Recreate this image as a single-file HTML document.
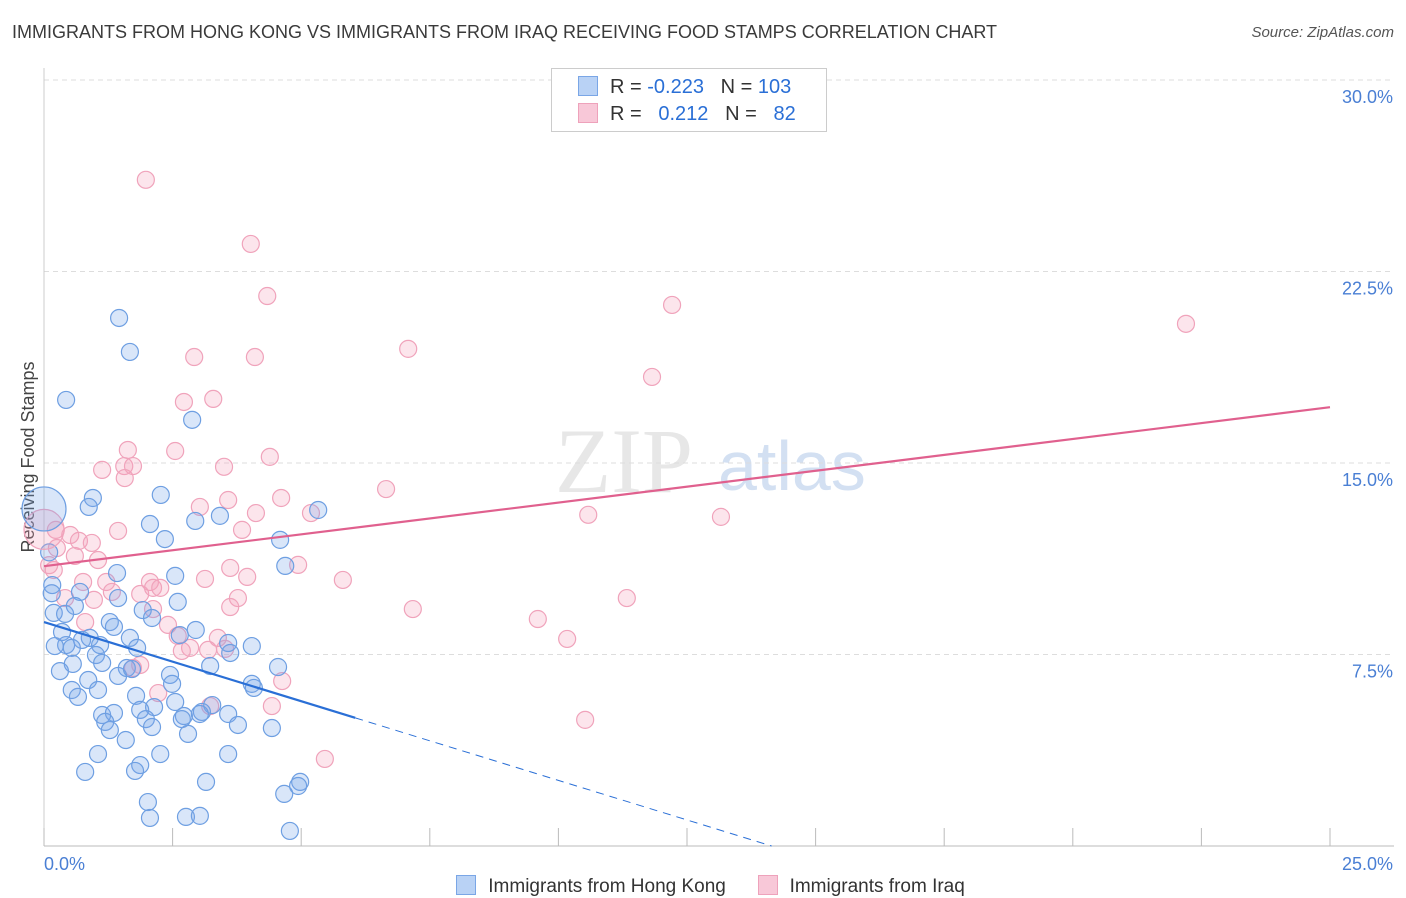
<!DOCTYPE html>
<html><head><meta charset="utf-8">
<style>
body{margin:0;background:#fff;font-family:"Liberation Sans",sans-serif;}
#wrap{position:relative;width:1406px;height:892px;overflow:hidden;}
.title{position:absolute;left:12px;top:22px;font-size:18px;color:#3a3a3a;}
.source{position:absolute;right:12px;top:24px;font-size:15px;color:#555;font-style:italic;}
</style></head><body>
<div id="wrap">
<div class="title">IMMIGRANTS FROM HONG KONG VS IMMIGRANTS FROM IRAQ RECEIVING FOOD STAMPS CORRELATION CHART</div>
<div class="source">Source: ZipAtlas.com</div>
<svg id="chart" width="1406" height="892" style="position:absolute;left:0;top:0"></svg>
</div>
<script>
const xTicks=[0,2.5,5,7.5,10,12.5,15,17.5,20,22.5,25];
const yTicks=[7.5,15,22.5,30];
const yTickLabels=["7.5%","15.0%","22.5%","30.0%"];
const blueX=[1.46,1.67,0.43,2.88,0.95,2.27,0.87,5.33,2.06,2.94,3.42,2.35,4.59,4.69,1.42,2.55,0.16,0.70,1.44,2.60,1.92,2.10,0.19,0.41,0.60,1.28,1.36,1.67,2.95,2.64,0.35,0.89,0.74,0.43,0.21,0.54,1.09,1.81,3.58,4.04,3.62,1.01,1.61,3.23,4.55,1.13,0.56,0.31,1.44,1.71,2.45,0.86,0.54,1.05,2.49,4.04,4.08,1.79,0.66,2.55,3.27,2.14,1.87,1.13,1.36,3.07,2.72,1.19,1.98,2.68,3.58,3.03,2.10,3.77,4.43,1.28,2.80,1.59,1.05,2.26,3.58,1.87,0.80,1.77,3.15,4.98,4.94,4.67,2.02,2.76,3.03,2.06,4.78,0.1,0.15];
const blueY=[20.68,19.35,17.47,16.69,13.63,13.75,13.28,13.16,12.61,12.73,12.93,12.02,11.99,10.97,10.69,10.58,10.22,9.95,9.71,9.56,9.24,8.93,9.13,9.09,9.40,8.77,8.58,8.15,8.46,8.26,8.38,8.15,8.07,7.87,7.83,7.76,7.87,7.76,7.95,7.83,7.56,7.48,6.97,7.05,7.01,7.17,7.13,6.85,6.66,6.93,6.70,6.50,6.11,6.11,6.35,6.35,6.19,5.88,5.84,5.64,5.52,5.44,5.33,5.13,5.21,5.25,5.09,4.86,4.97,4.97,5.17,5.17,4.66,4.74,4.62,4.54,4.39,4.15,3.60,3.60,3.60,3.17,2.90,2.94,2.51,2.51,2.35,2.04,1.72,1.14,1.18,1.10,0.59,11.5,9.9];
const pinkX=[1.98,4.02,4.34,12.21,22.20,2.92,4.10,7.08,11.82,2.72,3.29,1.63,2.55,1.13,1.56,1.73,3.50,4.39,1.57,6.65,3.58,3.03,4.61,4.12,5.19,10.58,13.16,1.44,3.85,0.23,0.51,0.25,0.68,0.93,0.60,1.05,0.19,3.62,4.94,3.95,5.81,3.13,0.76,2.06,2.12,2.26,1.21,0.41,1.32,1.87,3.77,0.97,3.62,2.12,7.17,11.33,9.60,2.41,0.80,2.60,3.38,10.17,2.84,2.68,3.19,3.52,1.87,1.73,4.63,2.22,3.23,4.43,10.52,5.46,0.1];
const pinkY=[26.09,23.58,21.54,21.19,20.45,19.15,19.15,19.47,18.37,17.39,17.51,15.51,15.47,14.73,14.88,14.88,14.85,15.24,14.41,13.98,13.55,13.28,13.63,13.04,13.04,12.97,12.89,12.34,12.38,12.38,12.18,11.67,11.95,11.87,11.36,11.20,10.81,10.89,11.01,10.54,10.42,10.46,10.34,10.34,10.11,10.11,10.34,9.71,9.95,9.87,9.71,9.64,9.36,9.28,9.28,9.71,8.89,8.66,8.77,8.23,8.15,8.11,7.76,7.64,7.68,7.72,7.09,6.97,6.46,5.99,5.48,5.48,4.94,3.41,11.0];
const bigBlueX=[0], bigBlueY=[13.2];
const bigPinkX=[0], bigPinkY=[12.4];
const blueFit=[8.77,-0.62], pinkFit=[10.96,0.249];
const blueSolidEnd=6.05;

const NS="http://www.w3.org/2000/svg";
const svg=document.getElementById('chart');
const X0=44,X1=1330,Y0=846,Ymax=30;
const sx=v=>X0+(X1-X0)*v/25;
const sy=v=>Y0-(Y0-80)*v/Ymax;
function mk(t,a,p){const e=document.createElementNS(NS,t);for(const k in a)e.setAttribute(k,a[k]);(p||svg).appendChild(e);return e;}

// watermark
let wm=mk('text',{x:555,y:492,'font-size':92,fill:'#ddd','font-family':'Liberation Serif',opacity:0.7});
wm.textContent='ZIP';


let wm2=mk('text',{x:718,y:490,'font-size':70,fill:'#c9d9f0','font-family':'Liberation Sans',opacity:0.8});
wm2.textContent='atlas';



// grid
yTicks.forEach((t,i)=>{
 const g=mk('line',{x1:X0,x2:1394,y1:sy(t),y2:sy(t),stroke:'#ddd','stroke-dasharray':'5,4'});
 
 
 const l=mk('text',{x:1393,y:sy(t)+23,'text-anchor':'end','font-size':18,fill:'#4a7fd4'});
 l.textContent=yTickLabels[i];
 
 
});
let ax=mk('line',{x1:X0,x2:1394,y1:Y0,y2:Y0,stroke:'#bbb'});


let ay=mk('line',{x1:X0,x2:X0,y1:68,y2:Y0,stroke:'#ccc'});


xTicks.forEach(t=>{
 const k=mk('line',{x1:sx(t),x2:sx(t),y1:Y0,y2:Y0-18,stroke:'#bbb'});
 
 
});
let xl=mk('text',{x:44,y:870,'font-size':18,fill:'#4a7fd4'});xl.textContent='0.0%';


let xr=mk('text',{x:1393,y:870,'text-anchor':'end','font-size':18,fill:'#4a7fd4'});xr.textContent='25.0%';


let yt=mk('text',{x:34,y:457,'font-size':18,fill:'#444','text-anchor':'middle',transform:'rotate(-90 34 457)'});yt.textContent='Receiving Food Stamps';



function pts(xs,ys,r,fill,stroke,name){
 xs.forEach((x,i)=>{
  const c=mk('circle',{cx:sx(x),cy:sy(ys[i]),r:r,fill:fill,stroke:stroke,'stroke-width':1.2});
  
  
 });
}
pts(pinkX,pinkY,8.5,'rgba(244,160,188,0.28)','#f0a3bb','iraq-point');
pts(blueX,blueY,8.5,'rgba(120,165,235,0.28)','#6e9fe2','hong-kong-point');
pts(bigPinkX,bigPinkY,20,'rgba(244,160,188,0.28)','#f0a3bb','iraq-point-large');
pts(bigBlueX,bigBlueY,22,'rgba(120,165,235,0.28)','#6e9fe2','hong-kong-point-large');

// trend lines
const bx0=0,bx1=blueSolidEnd,bxz=-blueFit[0]/blueFit[1];
let bl=mk('line',{x1:sx(bx0),y1:sy(blueFit[0]),x2:sx(bx1),y2:sy(blueFit[0]+blueFit[1]*bx1),stroke:'#2a6fd6','stroke-width':2.2});


let bd=mk('line',{x1:sx(bx1),y1:sy(blueFit[0]+blueFit[1]*bx1),x2:sx(bxz),y2:sy(0),stroke:'#2a6fd6','stroke-width':1,'stroke-dasharray':'8,6'});


let pl=mk('line',{x1:sx(0),y1:sy(pinkFit[0]),x2:sx(25),y2:sy(pinkFit[0]+pinkFit[1]*25),stroke:'#e0608e','stroke-width':2.2});


</script>
<div style="position:absolute;left:551px;top:68px;width:274px;height:62px;border:1px solid #ccc;background:#fff;font-size:20px;color:#333;">
 <div style="position:absolute;left:26px;top:7px;white-space:pre;"><span style="display:inline-block;width:18px;height:18px;background:#b9d2f5;border:1px solid #7aa6e6;vertical-align:-3px;margin-right:12px"></span>R = <span style="color:#2a6fd6">-0.223</span>   N = <span style="color:#2a6fd6">103</span></div>
 <div style="position:absolute;left:26px;top:34px;white-space:pre;"><span style="display:inline-block;width:18px;height:18px;background:#f8c8d8;border:1px solid #eea2bb;vertical-align:-3px;margin-right:12px"></span>R =   <span style="color:#2a6fd6">0.212</span>   N =   <span style="color:#2a6fd6">82</span></div>
</div>
<div style="position:absolute;left:451px;top:853px;font-size:19px;color:#333;white-space:pre;">
 <span><span style="display:inline-block;width:18px;height:18px;background:#b9d2f5;border:1px solid #7aa6e6;vertical-align:-3px;margin-right:12px"></span>Immigrants from Hong Kong</span>      <span><span style="display:inline-block;width:18px;height:18px;background:#f8c8d8;border:1px solid #eea2bb;vertical-align:-3px;margin-right:12px"></span>Immigrants from Iraq</span>
</div>
</body></html>
